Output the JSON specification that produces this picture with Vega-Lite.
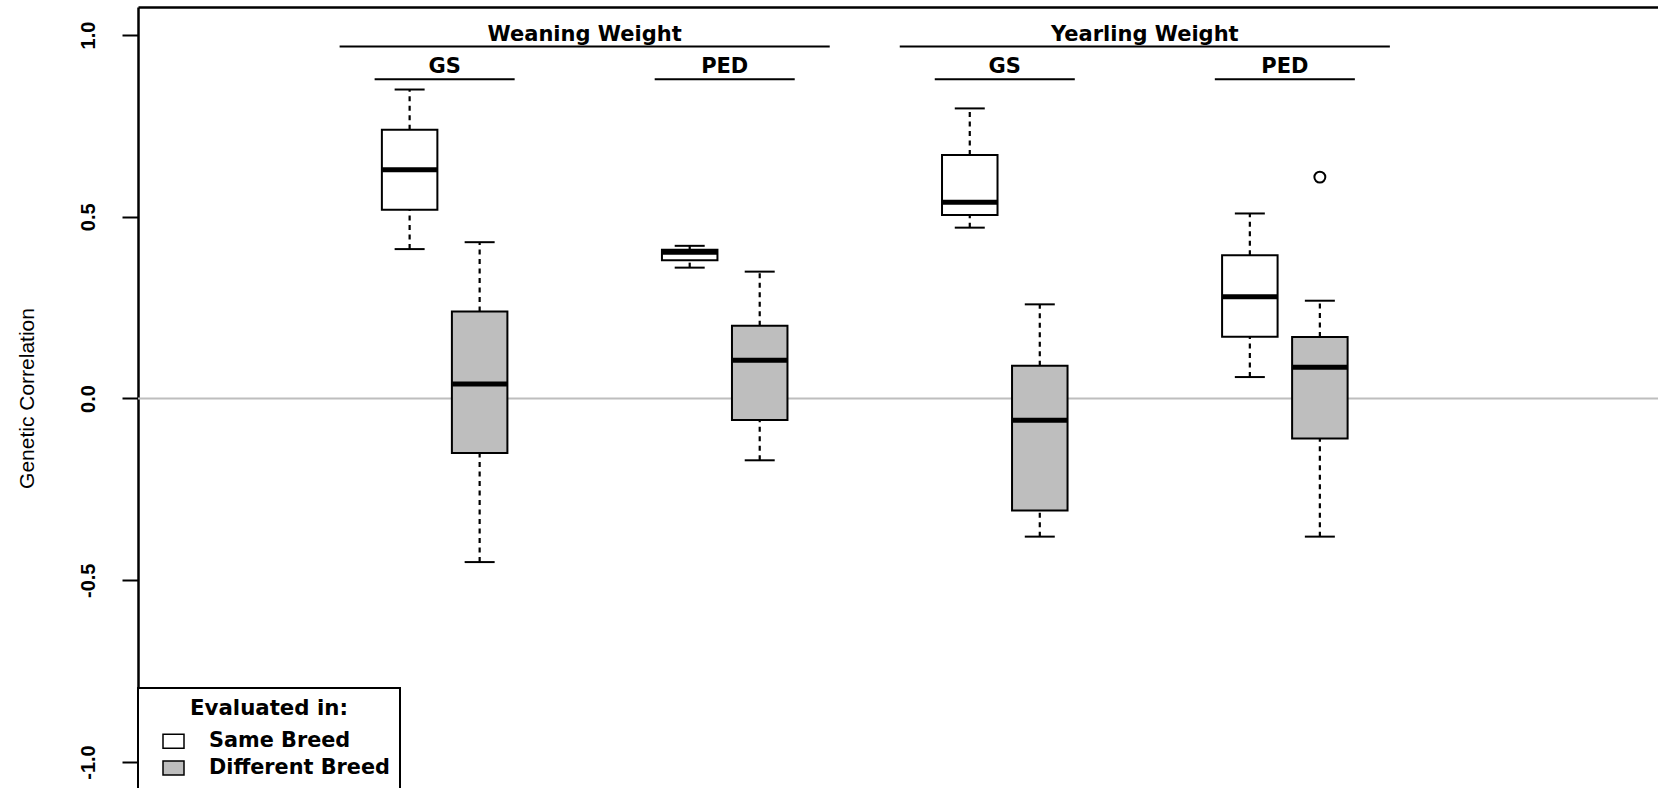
{
  "$schema": "https://vega.github.io/schema/vega-lite/v6.json",
  "width": 1520,
  "height": 781,
  "autosize": {"type": "none"},
  "padding": {"left": 138, "top": 7, "right": 0, "bottom": 0},
  "background": "white",
  "config": {
    "view": {"stroke": null},
    "legend": {"strokeWidth": 2},
    "axisX": {"domain": true, "domainColor": "black", "domainWidth": 2.5, "ticks": false, "labels": false, "grid": false},
    "axisY": {
      "labelExpr": "replace(format(datum.value, '.1f'), '\u2212', '-')",
      "labelAngle": -90, "labelAlign": "center", "labelBaseline": "alphabetic",
      "labelFont": "Liberation Sans", "labelFontWeight": "bold", "labelFontSize": 20, "labelColor": "black",
      "labelPadding": 28, "labelOverlap": false, "labelFlush": false,
      "tickSize": 16, "tickWidth": 2, "tickColor": "black",
      "domainColor": "black", "domainWidth": 2.5, "grid": false,
      "titleFont": "Liberation Sans", "titleFontWeight": "normal", "titleFontSize": 21, "titleColor": "black",
      "titleAngle": -90, "titleAlign": "center", "titleBaseline": "alphabetic", "titleX": -105, "titleY": 391
    }
  },
  "datasets": {
    "boxes": [
      {"trait": "Weaning Weight", "method": "GS", "evaluated": "Same Breed", "pos": 4, "lower": 0.411, "q1": 0.519, "median": 0.629, "q3": 0.739, "upper": 0.850},
      {"trait": "Weaning Weight", "method": "GS", "evaluated": "Different Breed", "pos": 5, "lower": -0.450, "q1": -0.150, "median": 0.040, "q3": 0.239, "upper": 0.430},
      {"trait": "Weaning Weight", "method": "PED", "evaluated": "Same Breed", "pos": 8, "lower": 0.360, "q1": 0.380, "median": 0.402, "q3": 0.409, "upper": 0.420},
      {"trait": "Weaning Weight", "method": "PED", "evaluated": "Different Breed", "pos": 9, "lower": -0.170, "q1": -0.059, "median": 0.105, "q3": 0.200, "upper": 0.349},
      {"trait": "Yearling Weight", "method": "GS", "evaluated": "Same Breed", "pos": 12, "lower": 0.470, "q1": 0.505, "median": 0.540, "q3": 0.670, "upper": 0.798},
      {"trait": "Yearling Weight", "method": "GS", "evaluated": "Different Breed", "pos": 13, "lower": -0.380, "q1": -0.308, "median": -0.060, "q3": 0.090, "upper": 0.259},
      {"trait": "Yearling Weight", "method": "PED", "evaluated": "Same Breed", "pos": 16, "lower": 0.059, "q1": 0.170, "median": 0.280, "q3": 0.394, "upper": 0.509},
      {"trait": "Yearling Weight", "method": "PED", "evaluated": "Different Breed", "pos": 17, "lower": -0.380, "q1": -0.110, "median": 0.086, "q3": 0.169, "upper": 0.269}
    ],
    "outliers": [
      {"trait": "Yearling Weight", "method": "PED", "evaluated": "Different Breed", "pos": 17, "value": 0.609}
    ],
    "traits": [
      {"label": "Weaning Weight", "from": 3, "to": 10, "mid": 6.5},
      {"label": "Yearling Weight", "from": 11, "to": 18, "mid": 14.5}
    ],
    "methods": [
      {"label": "GS", "from": 3.5, "to": 5.5, "mid": 4.5},
      {"label": "PED", "from": 7.5, "to": 9.5, "mid": 8.5},
      {"label": "GS", "from": 11.5, "to": 13.5, "mid": 12.5},
      {"label": "PED", "from": 15.5, "to": 17.5, "mid": 16.5}
    ]
  },
  "layer": [
    {
      "data": {"values": [{}]},
      "mark": {"type": "rule", "color": "#bebebe", "strokeWidth": 2},
      "encoding": {
        "y": {"datum": 0, "type": "quantitative", "scale": {"domain": [-1.0715, 1.077], "nice": false, "zero": false}, "axis": {"orient": "left", "values": [-1, -0.5, 0, 0.5, 1], "title": "Genetic Correlation"}}
      }
    },
    {
      "data": {"name": "traits"},
      "mark": {"type": "rule", "color": "black", "strokeWidth": 2},
      "encoding": {
        "x": {"field": "from", "type": "quantitative", "scale": {"domain": [0.192, 21.758], "nice": false, "zero": false}, "axis": {"orient": "top", "title": null}},
        "x2": {"field": "to"},
        "y": {"datum": 0.968, "type": "quantitative", "scale": {"domain": [-1.0715, 1.077], "nice": false, "zero": false}, "axis": {"orient": "left", "values": [-1, -0.5, 0, 0.5, 1], "title": "Genetic Correlation"}}
      }
    },
    {
      "data": {"name": "traits"},
      "mark": {"type": "text", "font": "DejaVu Sans", "fontWeight": "bold", "fontSize": 21, "color": "black", "align": "center", "baseline": "alphabetic"},
      "encoding": {
        "x": {"field": "mid", "type": "quantitative", "scale": {"domain": [0.192, 21.758], "nice": false, "zero": false}, "axis": {"orient": "top", "title": null}},
        "y": {"datum": 0.984, "type": "quantitative", "scale": {"domain": [-1.0715, 1.077], "nice": false, "zero": false}, "axis": {"orient": "left", "values": [-1, -0.5, 0, 0.5, 1], "title": "Genetic Correlation"}},
        "text": {"field": "label"}
      }
    },
    {
      "data": {"name": "methods"},
      "mark": {"type": "rule", "color": "black", "strokeWidth": 2},
      "encoding": {
        "x": {"field": "from", "type": "quantitative", "scale": {"domain": [0.192, 21.758], "nice": false, "zero": false}, "axis": {"orient": "top", "title": null}},
        "x2": {"field": "to"},
        "y": {"datum": 0.878, "type": "quantitative", "scale": {"domain": [-1.0715, 1.077], "nice": false, "zero": false}, "axis": {"orient": "left", "values": [-1, -0.5, 0, 0.5, 1], "title": "Genetic Correlation"}}
      }
    },
    {
      "data": {"name": "methods"},
      "mark": {"type": "text", "font": "DejaVu Sans", "fontWeight": "bold", "fontSize": 21, "color": "black", "align": "center", "baseline": "alphabetic"},
      "encoding": {
        "x": {"field": "mid", "type": "quantitative", "scale": {"domain": [0.192, 21.758], "nice": false, "zero": false}, "axis": {"orient": "top", "title": null}},
        "y": {"datum": 0.896, "type": "quantitative", "scale": {"domain": [-1.0715, 1.077], "nice": false, "zero": false}, "axis": {"orient": "left", "values": [-1, -0.5, 0, 0.5, 1], "title": "Genetic Correlation"}},
        "text": {"field": "label"}
      }
    },
    {
      "data": {"name": "boxes"},
      "mark": {"type": "rule", "color": "black", "strokeWidth": 2.2, "strokeDash": [5, 4.5]},
      "encoding": {
        "x": {"field": "pos", "type": "quantitative", "scale": {"domain": [0.192, 21.758], "nice": false, "zero": false}, "axis": {"orient": "top", "title": null}},
        "y": {"field": "q3", "type": "quantitative", "scale": {"domain": [-1.0715, 1.077], "nice": false, "zero": false}, "axis": {"orient": "left", "values": [-1, -0.5, 0, 0.5, 1], "title": "Genetic Correlation"}},
        "y2": {"field": "upper"}
      }
    },
    {
      "data": {"name": "boxes"},
      "mark": {"type": "rule", "color": "black", "strokeWidth": 2.2, "strokeDash": [5, 4.5]},
      "encoding": {
        "x": {"field": "pos", "type": "quantitative", "scale": {"domain": [0.192, 21.758], "nice": false, "zero": false}, "axis": {"orient": "top", "title": null}},
        "y": {"field": "lower", "type": "quantitative", "scale": {"domain": [-1.0715, 1.077], "nice": false, "zero": false}, "axis": {"orient": "left", "values": [-1, -0.5, 0, 0.5, 1], "title": "Genetic Correlation"}},
        "y2": {"field": "q1"}
      }
    },
    {
      "data": {"name": "boxes"},
      "mark": {"type": "tick", "orient": "horizontal", "color": "black", "size": 30, "thickness": 2, "opacity": 1},
      "encoding": {
        "x": {"field": "pos", "type": "quantitative", "scale": {"domain": [0.192, 21.758], "nice": false, "zero": false}, "axis": {"orient": "top", "title": null}},
        "y": {"field": "upper", "type": "quantitative", "scale": {"domain": [-1.0715, 1.077], "nice": false, "zero": false}, "axis": {"orient": "left", "values": [-1, -0.5, 0, 0.5, 1], "title": "Genetic Correlation"}}
      }
    },
    {
      "data": {"name": "boxes"},
      "mark": {"type": "tick", "orient": "horizontal", "color": "black", "size": 30, "thickness": 2, "opacity": 1},
      "encoding": {
        "x": {"field": "pos", "type": "quantitative", "scale": {"domain": [0.192, 21.758], "nice": false, "zero": false}, "axis": {"orient": "top", "title": null}},
        "y": {"field": "lower", "type": "quantitative", "scale": {"domain": [-1.0715, 1.077], "nice": false, "zero": false}, "axis": {"orient": "left", "values": [-1, -0.5, 0, 0.5, 1], "title": "Genetic Correlation"}}
      }
    },
    {
      "data": {"name": "boxes"},
      "mark": {"type": "bar", "size": 55.5, "stroke": "black", "strokeWidth": 2, "opacity": 1},
      "encoding": {
        "x": {"field": "pos", "type": "quantitative", "scale": {"domain": [0.192, 21.758], "nice": false, "zero": false}, "axis": {"orient": "top", "title": null}},
        "y": {"field": "q1", "type": "quantitative", "scale": {"domain": [-1.0715, 1.077], "nice": false, "zero": false}, "axis": {"orient": "left", "values": [-1, -0.5, 0, 0.5, 1], "title": "Genetic Correlation"}},
        "y2": {"field": "q3"},
        "fill": {
          "field": "evaluated", "type": "nominal",
          "scale": {"domain": ["Same Breed", "Different Breed"], "range": ["white", "#bebebe"]},
          "legend": {
            "orient": "none", "legendX": 0, "legendY": 681,
            "title": "Evaluated in:", "titleFont": "DejaVu Sans", "titleFontSize": 21.3, "titleFontWeight": "bold", "titleColor": "black",
            "titleAnchor": "middle", "titlePadding": 10.5,
            "labelFont": "DejaVu Sans", "labelFontSize": 20.8, "labelFontWeight": "bold", "labelColor": "black", "labelLimit": 400,
            "symbolType": "M-1,-0.667L1,-0.667L1,0.667L-1,0.667Z", "symbolSize": 441,
            "symbolStrokeColor": "black", "symbolStrokeWidth": 1.5, "symbolOffset": 14, "labelOffset": 24,
            "rowPadding": 4.7, "padding": 10,
            "strokeColor": "black", "fillColor": "white"
          }
        }
      }
    },
    {
      "data": {"name": "boxes"},
      "mark": {"type": "tick", "orient": "horizontal", "color": "black", "size": 55, "thickness": 5, "opacity": 1},
      "encoding": {
        "x": {"field": "pos", "type": "quantitative", "scale": {"domain": [0.192, 21.758], "nice": false, "zero": false}, "axis": {"orient": "top", "title": null}},
        "y": {"field": "median", "type": "quantitative", "scale": {"domain": [-1.0715, 1.077], "nice": false, "zero": false}, "axis": {"orient": "left", "values": [-1, -0.5, 0, 0.5, 1], "title": "Genetic Correlation"}}
      }
    },
    {
      "data": {"name": "outliers"},
      "mark": {"type": "point", "shape": "circle", "filled": false, "color": "black", "strokeWidth": 2, "size": 120, "opacity": 1},
      "encoding": {
        "x": {"field": "pos", "type": "quantitative", "scale": {"domain": [0.192, 21.758], "nice": false, "zero": false}, "axis": {"orient": "top", "title": null}},
        "y": {"field": "value", "type": "quantitative", "scale": {"domain": [-1.0715, 1.077], "nice": false, "zero": false}, "axis": {"orient": "left", "values": [-1, -0.5, 0, 0.5, 1], "title": "Genetic Correlation"}}
      }
    }
  ]
}
